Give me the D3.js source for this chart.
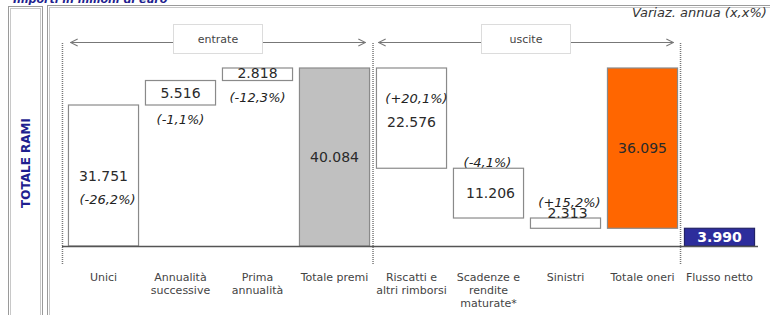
<!DOCTYPE html>
<html>
<head>
<meta charset="utf-8">
<script src="https://cdn.jsdelivr.net/npm/d3@7"></script>
<style>
  html, body { margin: 0; padding: 0; background: #fff; }
  svg { display: block; }
  text { font-family: "DejaVu Sans", Verdana, sans-serif; }
</style>
</head>
<body>
<svg id="chart" width="770" height="315"></svg>
<script>
// dati (milioni di euro)
var categories = ["Unici", "Annualità successive", "Prima annualità", "Totale premi",
                  "Riscatti e altri rimborsi", "Scadenze e rendite maturate*", "Sinistri",
                  "Totale oneri", "Flusso netto"];
var catLines = [["Unici"], ["Annualità", "successive"], ["Prima", "annualità"], ["Totale premi"],
                ["Riscatti e", "altri rimborsi"], ["Scadenze e", "rendite", "maturate*"], ["Sinistri"],
                ["Totale oneri"], ["Flusso netto"]];
var values = [31751, 5516, 2818, 40084, -22576, -11206, -2313, -36095, 3990];
var valueLabels = ["31.751", "5.516", "2.818", "40.084", "22.576", "11.206", "2.313", "36.095", "3.990"];
var kinds = ["step", "step", "step", "total", "step", "step", "step", "total", "net"];
var changes = ["-26,2%", "-1,1%", "-12,3%", null, "+20,1%", "-4,1%", "+15,2%", null, null];
var groups = [
  {label: "entrate", from: 0, to: 3},
  {label: "uscite", from: 4, to: 7}
];

var svg = d3.select("#chart");
var baseY = 246, topY = 68;

// build waterfall segments
var running = 0;
var bars = values.map(function(v, i) {
  var b = {i: i, name: categories[i], kind: kinds[i], label: valueLabels[i], change: changes[i]};
  if (kinds[i] == "step") {
    b.y0 = running; b.y1 = running + v; running += v;
  } else if (kinds[i] == "total") {
    // totale premi parte da zero, totale oneri va dal residuo fino al totale premi
    if (v > 0) { b.y0 = 0; b.y1 = v; running = v; }
    else { b.y0 = running; b.y1 = running - v; }
  } else {
    b.y0 = 0; b.y1 = v;
  }
  b.lo = Math.min(b.y0, b.y1); b.hi = Math.max(b.y0, b.y1);
  return b;
});

var x = d3.scaleBand().domain(categories).range([65, 758]).paddingInner(0.09).paddingOuter(0.045);
var y = d3.scaleLinear().domain([0, 40084]).range([baseY, topY]);

// cornici
function frame(x0, y0, w, h) {
  svg.append("rect").attr("x", x0).attr("y", y0).attr("width", w).attr("height", h)
    .attr("fill", "none").attr("stroke", "#9a9a9a").attr("stroke-width", 1);
  svg.append("rect").attr("x", x0 + 2).attr("y", y0 + 2).attr("width", w - 4).attr("height", h - 4)
    .attr("fill", "none").attr("stroke", "#c8c8c8").attr("stroke-width", 1);
}
frame(8.5, 6.5, 34, 330);
frame(47.5, 5.5, 760, 330);

svg.append("text").attr("x", 13).attr("y", 3)
  .attr("font-size", 11).attr("font-weight", "bold").attr("font-style", "italic")
  .attr("fill", "#1f1f8f").text("Importi in milioni di euro");

svg.append("text").attr("transform", "translate(30,163) rotate(-90)")
  .attr("text-anchor", "middle").attr("font-size", 12).attr("font-weight", "bold")
  .attr("fill", "#1f1f8f").text("TOTALE RAMI");

svg.append("text").attr("x", 632).attr("y", 17)
  .attr("font-size", 13).attr("font-style", "italic").attr("fill", "#333")
  .text("Variaz. annua (x,x%)");

// separatori tratteggiati
var seps = [x(categories[0]) - 6, x(categories[3]) + x.bandwidth() + 3.5, x(categories[7]) + x.bandwidth() + 3];
svg.selectAll("line.sep").data(seps).enter().append("line").attr("class", "sep")
  .attr("x1", function(d) { return d; }).attr("x2", function(d) { return d; })
  .attr("y1", 43).attr("y2", 264)
  .attr("stroke", "#777").attr("stroke-width", 1.5).attr("stroke-dasharray", "1,1");

// frecce entrate / uscite
svg.append("defs").append("marker").attr("id", "arr")
  .attr("viewBox", "0 0 10 10").attr("refX", 9).attr("refY", 5)
  .attr("markerWidth", 9).attr("markerHeight", 9).attr("orient", "auto-start-reverse")
  .append("path").attr("d", "M1,1 L9,5 L1,9").attr("fill", "none").attr("stroke", "#777").attr("stroke-width", 1.2);

groups.forEach(function(g) {
  var gx0 = x(categories[g.from]) + 2, gx1 = x(categories[g.to]) + x.bandwidth() - 4;
  svg.append("line").attr("x1", gx0).attr("x2", gx1).attr("y1", 42.5).attr("y2", 42.5)
    .attr("stroke", "#777").attr("stroke-width", 1)
    .attr("marker-start", "url(#arr)").attr("marker-end", "url(#arr)");
  var cx = (gx0 + gx1) / 2;
  svg.append("rect").attr("x", cx - 44.5).attr("y", 24.5).attr("width", 89).attr("height", 29)
    .attr("fill", "#fff").attr("stroke", "#dcdcdc");
  svg.append("text").attr("x", cx).attr("y", 43).attr("text-anchor", "middle")
    .attr("font-size", 11).attr("fill", "#444").text(g.label);
});

// barre
function fillOf(b) {
  if (b.kind == "net") return "#2d2d9c";
  if (b.kind == "total") return b.i == 3 ? "#c0c0c0" : "#ff6600";
  return "#fff";
}
svg.selectAll("rect.bar").data(bars).enter().append("rect").attr("class", "bar")
  .attr("x", function(d) { return x(d.name); })
  .attr("width", x.bandwidth())
  .attr("y", function(d) { return y(d.hi); })
  .attr("height", function(d) { return Math.max(1, y(d.lo) - y(d.hi)); })
  .attr("fill", fillOf)
  .attr("stroke", function(d) { return d.kind == "net" ? "#222266" : "#8a8a8a"; })
  .attr("stroke-width", 1.2);

// asse
svg.append("line").attr("x1", 62).attr("x2", 758).attr("y1", baseY + 0.5).attr("y2", baseY + 0.5)
  .attr("stroke", "#555").attr("stroke-width", 1.5);

// posizioni etichette
function labelPos(b) {
  var top = y(b.hi), bot = y(b.lo), mid = (top + bot) / 2, cx = x(b.name) + x.bandwidth() / 2;
  switch (b.i) {
    case 0: return {cx: cx, v: mid, p: mid + 24, px: cx + 4};
    case 1: return {cx: cx, v: mid, p: bot + 14, px: cx};
    case 2: return {cx: cx, v: mid - 1, p: bot + 17, px: cx};
    case 4: return {cx: cx, v: top + 54, p: top + 30, px: cx + 5};
    case 5: return {cx: cx + 2, v: mid, p: top - 6, px: cx - 1};
    case 6: return {cx: cx + 2, v: top - 5, p: top - 16, px: cx + 4};
    default: return {cx: cx, v: mid, p: null, px: cx};
  }
}
bars.forEach(function(b) {
  var p = labelPos(b);
  svg.append("text").attr("x", p.cx).attr("y", p.v).attr("dy", "0.36em")
    .attr("text-anchor", "middle").attr("font-size", 14)
    .attr("font-weight", b.kind == "net" ? "bold" : "normal")
    .attr("fill", b.kind == "net" ? "#fff" : "#2a2a2a").text(b.label);
  if (b.change) {
    svg.append("text").attr("x", p.px).attr("y", p.p).attr("dy", "0.36em")
      .attr("text-anchor", "middle").attr("font-size", 13).attr("font-style", "italic")
      .attr("fill", "#222").text("(" + b.change + ")");
  }
});

// etichette categorie
svg.selectAll("text.cat").data(catLines).enter().append("text").attr("class", "cat")
  .attr("text-anchor", "middle").attr("font-size", 11).attr("fill", "#444")
  .attr("transform", function(d, i) { return "translate(" + (x(categories[i]) + x.bandwidth() / 2) + ",281)"; })
  .selectAll("tspan").data(function(d) { return d; }).enter().append("tspan")
  .attr("x", 0).attr("dy", function(d, j) { return j == 0 ? 0 : 13; })
  .text(function(d) { return d; });
</script>
</body>
</html>
